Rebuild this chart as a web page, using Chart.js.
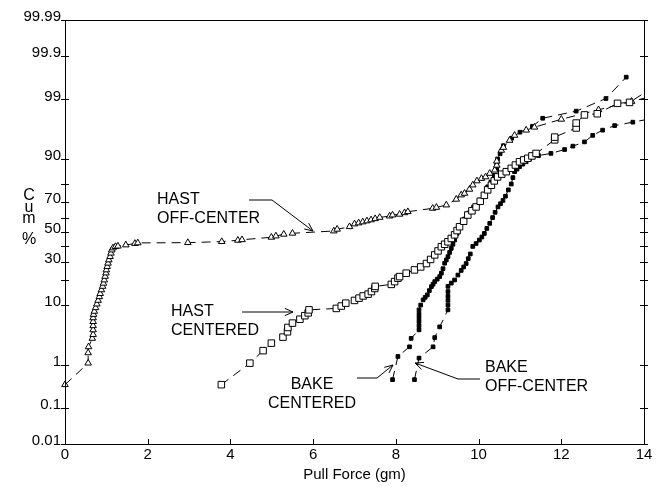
<!DOCTYPE html>
<html><head><meta charset="utf-8">
<script src="https://cdn.jsdelivr.net/npm/chart.js@4.4.1/dist/chart.umd.min.js"></script>
<style>html,body{margin:0;padding:0;background:#fff;}canvas{display:block;}</style>
</head><body>
<canvas id="c" width="660" height="487"></canvas>
<script>
// ---------- data ----------
const X_TICKS = [0, 2, 4, 6, 8, 10, 12, 14];
const Y_TICKS = [0.01, 0.1, 1, 10, 20, 30, 40, 50, 60, 70, 80, 90, 99, 99.9, 99.99];
const Y_TICK_LABELS = ['0.01', '0.1', '1', '10', '', '30', '', '50', '', '70', '', '90', '99', '99.9', '99.99'];

const HAST_OFF_X = [0, 0.56, 0.56, 0.57, 0.66, 0.68, 0.68, 0.68, 0.68, 0.68, 0.69, 0.71, 0.74, 0.77, 0.80, 0.83, 0.85, 0.88, 0.91, 0.93, 0.95, 0.97, 0.99, 1.00, 1.02, 1.04, 1.06, 1.09, 1.11, 1.13, 1.16, 1.22, 1.28, 1.47, 1.69, 1.76, 2.97, 3.79, 4.18, 4.28, 4.99, 5.10, 5.29, 5.50, 6.50, 6.58, 6.88, 7.00, 7.10, 7.20, 7.30, 7.40, 7.50, 7.61, 7.85, 7.92, 8.09, 8.21, 8.29, 8.89, 8.98, 9.22, 9.46, 9.58, 9.66, 9.78, 9.86, 9.96, 10.07, 10.17, 10.27, 10.39, 10.44, 10.44, 10.55, 10.60, 10.75, 10.87, 11.15, 11.35, 12.00, 12.90, 13.70, 14.60];
const HAST_OFF_P = [0.37, 1.07, 1.7, 2.2, 3.1, 3.6, 4.3, 5.0, 5.8, 6.6, 7.4, 8.2, 9.2, 10.3, 11.5, 12.8, 14.0, 15.5, 17.0, 18.4, 20.0, 21.8, 23.6, 25.3, 27.2, 29.2, 31.2, 33.3, 35.5, 37.6, 39.0, 39.9, 40.2, 41.0, 42.0, 42.4, 42.6, 43.3, 44.2, 44.6, 46.3, 47.2, 48.4, 49.1, 50.7, 51.9, 53.7, 55.6, 56.3, 57.0, 57.7, 58.4, 59.2, 60.1, 61.0, 61.7, 62.2, 63.2, 63.9, 66.1, 66.7, 68.2, 71.7, 74.2, 75.1, 77.3, 79.5, 81.5, 82.6, 83.3, 84.8, 86.1, 87.9, 89.3, 92.4, 93.1, 94.6, 95.5, 96.3, 96.7, 97.6, 98.4, 98.9, 99.3];

const HAST_CEN_X = [3.78, 4.47, 4.79, 4.99, 5.27, 5.38, 5.39, 5.50, 5.68, 5.80, 5.88, 5.90, 6.56, 6.68, 6.79, 7.00, 7.11, 7.21, 7.33, 7.41, 7.49, 7.50, 7.89, 7.97, 8.05, 8.09, 8.25, 8.45, 8.60, 8.74, 8.84, 8.94, 9.02, 9.10, 9.18, 9.26, 9.34, 9.42, 9.48, 9.54, 9.64, 9.74, 9.84, 9.94, 10.04, 10.14, 10.22, 10.31, 10.38, 10.46, 10.56, 10.67, 10.79, 10.89, 10.99, 11.09, 11.19, 11.29, 11.39, 11.84, 11.84, 12.36, 12.36, 12.56, 12.87, 13.36, 13.65, 14.30];
const HAST_CEN_P = [0.37, 1.07, 1.87, 2.56, 3.26, 4.0, 4.7, 5.5, 6.3, 7.1, 7.8, 8.6, 9.0, 9.7, 10.6, 11.5, 12.3, 13.1, 13.8, 14.8, 16.1, 17.0, 17.9, 19.2, 20.9, 21.7, 23.5, 25.3, 27.0, 29.0, 31.5, 34.4, 37.0, 39.8, 41.5, 43.2, 45.5, 48.0, 51.0, 53.7, 57.5, 61.7, 64.5, 67.0, 70.5, 74.0, 77.0, 79.4, 81.5, 83.3, 84.5, 85.5, 86.8, 88.0, 89.1, 89.7, 90.2, 90.9, 91.6, 94.7, 95.2, 96.6, 97.2, 98.0, 98.1, 98.8, 98.85, 99.5];

const BAKE_CEN_X = [7.92, 8.05, 8.33, 8.37, 8.56, 8.56, 8.56, 8.56, 8.56, 8.56, 8.60, 8.66, 8.71, 8.76, 8.81, 8.86, 8.90, 8.94, 9.00, 9.06, 9.10, 9.14, 9.18, 9.22, 9.26, 9.30, 9.34, 9.38, 9.42, 9.48, 9.54, 9.66, 9.76, 9.88, 10.02, 10.12, 10.22, 10.30, 10.38, 10.44, 10.44, 10.46, 10.52, 10.60, 10.80, 11.00, 11.30, 11.55, 12.36, 13.08, 13.57];
const BAKE_CEN_P = [0.48, 1.45, 2.2, 3.1, 4.3, 5.0, 5.8, 6.6, 7.5, 8.6, 10.0, 11.7, 12.6, 13.5, 15.2, 16.9, 18.0, 19.2, 20.4, 21.7, 23.5, 26.0, 29.2, 31.2, 33.3, 36.0, 38.7, 41.5, 44.4, 49.0, 53.7, 59.0, 63.0, 67.0, 71.2, 74.5, 78.6, 81.0, 84.0, 86.5, 88.5, 90.0, 91.5, 93.5, 95.0, 96.0, 96.8, 97.7, 98.3, 99.04, 99.67];

const BAKE_OFF_X = [8.45, 8.56, 8.90, 8.94, 9.06, 9.26, 9.26, 9.26, 9.26, 9.26, 9.26, 9.34, 9.42, 9.50, 9.58, 9.64, 9.70, 9.75, 9.80, 9.86, 9.94, 10.02, 10.08, 10.14, 10.20, 10.27, 10.34, 10.40, 10.47, 10.53, 10.59, 10.65, 10.72, 10.79, 10.83, 10.87, 10.93, 10.99, 11.07, 11.15, 11.23, 11.31, 11.45, 11.75, 12.08, 12.28, 12.56, 12.76, 13.00, 13.29, 13.73, 14.5];
const BAKE_OFF_P = [0.48, 1.35, 2.2, 3.2, 4.8, 8.6, 10.0, 11.5, 13.0, 14.8, 17.0, 18.5, 20.0, 22.5, 25.0, 27.0, 29.0, 32.0, 35.0, 40.0, 42.0, 44.4, 46.5, 49.0, 52.5, 56.0, 60.0, 63.5, 67.0, 69.0, 71.0, 73.5, 77.0, 80.0, 83.0, 85.5, 86.5, 87.4, 88.3, 89.1, 89.9, 90.6, 91.0, 91.6, 92.6, 93.4, 94.3, 95.5, 96.3, 96.9, 97.3, 97.9];

// ---------- probability (normal) scale ----------
function probit(p) {
  const a = [-3.969683028665376e+01, 2.209460984245205e+02, -2.759285104469687e+02, 1.383577518672690e+02, -3.066479806614716e+01, 2.506628277459239e+00];
  const b = [-5.447609879822406e+01, 1.615858368580409e+02, -1.556989798598866e+02, 6.680131188771972e+01, -1.328068155288572e+01];
  const c = [-7.784894002430293e-03, -3.223964580411365e-01, -2.400758277161838e+00, -2.549671348850431e+00, 4.374664141464968e+00, 2.938163982698783e+00];
  const d = [7.784695709041462e-03, 3.224671290700398e-01, 2.445134137142996e+00, 3.754408661907416e+00];
  const pl = 0.02425, ph = 1 - pl;
  let q, r;
  if (p < pl) { q = Math.sqrt(-2 * Math.log(p)); return (((((c[0]*q+c[1])*q+c[2])*q+c[3])*q+c[4])*q+c[5]) / ((((d[0]*q+d[1])*q+d[2])*q+d[3])*q+1); }
  if (p <= ph) { q = p - 0.5; r = q*q; return (((((a[0]*r+a[1])*r+a[2])*r+a[3])*r+a[4])*r+a[5])*q / (((((b[0]*r+b[1])*r+b[2])*r+b[3])*r+b[4])*r+1); }
  q = Math.sqrt(-2 * Math.log(1 - p));
  return -(((((c[0]*q+c[1])*q+c[2])*q+c[3])*q+c[4])*q+c[5]) / ((((d[0]*q+d[1])*q+d[2])*q+d[3])*q+1);
}
function normCdf(z) {
  const t = 1 / (1 + 0.2316419 * Math.abs(z));
  const y = 0.3989423 * Math.exp(-z*z/2) * t * (0.3193815 + t*(-0.3565638 + t*(1.781478 + t*(-1.821256 + t*1.330274))));
  return z > 0 ? 1 - y : y;
}
class ProbabilityScale extends Chart.LinearScale {
  static id = 'probability';
  determineDataLimits() { this.min = this.options.min; this.max = this.options.max; }
  buildTicks() { return Y_TICKS.map(v => ({ value: v })); }
  configure() {
    super.configure();
    this._zStart = probit(this.min / 100);
    this._zEnd = probit(this.max / 100);
  }
  getPixelForValue(value) {
    return this.getPixelForDecimal((probit(value / 100) - this._zStart) / (this._zEnd - this._zStart));
  }
  getValueForPixel(pixel) {
    const z = this._zStart + this.getDecimalForPixel(pixel) * (this._zEnd - this._zStart);
    return 100 * normCdf(z);
  }
}
Chart.register(ProbabilityScale);

// ---------- helpers ----------
const zip = (xs, ps) => xs.map((x, i) => ({ x: x, y: ps[i] }));
const FONT = "'Liberation Sans', Arial, sans-serif";

function arrowHead(ctx, fx, fy, tx, ty) {
  const ang = Math.atan2(ty - fy, tx - fx), len = 9, spread = 0.42;
  ctx.beginPath();
  ctx.moveTo(tx - len * Math.cos(ang - spread), ty - len * Math.sin(ang - spread));
  ctx.lineTo(tx, ty);
  ctx.lineTo(tx - len * Math.cos(ang + spread), ty - len * Math.sin(ang + spread));
  ctx.stroke();
}
const ANNOTATIONS = [
  { lines: ['HAST', 'OFF-CENTER'], x: 157, y: 200, align: 'left', path: [[249, 200], [272, 200], [313, 231]] },
  { lines: ['HAST', 'CENTERED'], x: 171, y: 312, align: 'left', path: [[242, 312], [293, 312]] },
  { lines: ['BAKE', 'CENTERED'], x: 312, y: 385, align: 'center', path: [[357, 378], [377, 378], [393, 365]] },
  { lines: ['BAKE', 'OFF-CENTER'], x: 485, y: 368, align: 'left', path: [[480, 379], [458, 379], [415, 363]] }
];

const framePlugin = {
  id: 'frame',
  afterDraw(chart) {
    const ctx = chart.ctx, a = chart.chartArea;
    const xs = chart.scales.x, ys = chart.scales.y;
    ctx.save();
    ctx.strokeStyle = '#000';
    ctx.lineWidth = 1;
    ctx.setLineDash([]);
    ctx.strokeRect(Math.round(a.left) + 0.5, Math.round(a.top) + 0.5, Math.round(a.right - a.left), Math.round(a.bottom - a.top));
    ctx.beginPath();
    ys.ticks.forEach(t => {
      const py = Math.round(ys.getPixelForValue(t.value)) + 0.5;
      ctx.moveTo(a.left - 4, py); ctx.lineTo(a.left + 4, py);
      ctx.moveTo(a.right - 4, py); ctx.lineTo(a.right + 4, py);
    });
    xs.ticks.forEach(t => {
      const px = Math.round(xs.getPixelForValue(t.value)) + 0.5;
      ctx.moveTo(px, a.bottom); ctx.lineTo(px, a.bottom - 5);
    });
    ctx.stroke();

    // stacked y-axis title
    ctx.fillStyle = '#000';
    ctx.font = '16px ' + FONT;
    ctx.textAlign = 'center';
    ctx.textBaseline = 'middle';
    [['C', 196], ['u', 208], ['m', 219], ['%', 240]].forEach(([ch, y]) => ctx.fillText(ch, 29, y));

    // annotations
    ANNOTATIONS.forEach(an => {
      ctx.textAlign = an.align;
      an.lines.forEach((ln, i) => ctx.fillText(ln, an.x, an.y + i * 19));
      ctx.beginPath();
      an.path.forEach(([px, py], i) => i ? ctx.lineTo(px, py) : ctx.moveTo(px, py));
      ctx.stroke();
      const n = an.path.length;
      arrowHead(ctx, an.path[n - 2][0], an.path[n - 2][1], an.path[n - 1][0], an.path[n - 1][1]);
    });
    ctx.restore();
  }
};

const lineBase = {
  showLine: true, borderColor: '#000', borderWidth: 1, borderDash: [9, 6],
  pointBorderColor: '#000', pointBorderWidth: 1,
  clip: { left: 8, top: 8, right: 0, bottom: 8 }
};

new Chart(document.getElementById('c'), {
  type: 'scatter',
  data: {
    datasets: [
      Object.assign({}, lineBase, { label: 'HAST CENTERED', data: zip(HAST_CEN_X, HAST_CEN_P), pointStyle: 'rect', pointRadius: 4.6, pointBackgroundColor: '#fff' }),
      Object.assign({}, lineBase, { label: 'HAST OFF-CENTER', data: zip(HAST_OFF_X, HAST_OFF_P), pointStyle: 'triangle', pointRadius: 3.8, pointBackgroundColor: '#fff' }),
      Object.assign({}, lineBase, { label: 'BAKE OFF-CENTER', data: zip(BAKE_OFF_X, BAKE_OFF_P), pointStyle: 'rect', pointRadius: 2.6, pointBackgroundColor: '#000' }),
      Object.assign({}, lineBase, { label: 'BAKE CENTERED', data: zip(BAKE_CEN_X, BAKE_CEN_P), pointStyle: 'rect', pointRadius: 2.6, pointBackgroundColor: '#000' })
    ]
  },
  options: {
    responsive: false,
    animation: false,
    devicePixelRatio: 1,
    events: [],
    layout: { padding: { top: 20, right: 16, left: 0, bottom: 0 } },
    plugins: { legend: { display: false }, tooltip: { enabled: false } },
    scales: {
      x: {
        type: 'linear', min: 0, max: 14,
        afterBuildTicks: s => { s.ticks = X_TICKS.map(v => ({ value: v })); },
        afterFit: s => { s.height = 43; },
        grid: { display: false, drawTicks: false },
        border: { display: false },
        ticks: { color: '#000', font: { family: FONT, size: 15 }, padding: 2, autoSkip: false, maxRotation: 0 },
        title: { display: true, text: 'Pull Force (gm)', color: '#000', font: { family: FONT, size: 15, lineHeight: 1.2 }, padding: { top: 0, bottom: 3 } }
      },
      y: {
        type: 'probability', min: 0.01, max: 99.99,
        afterFit: s => { s.width = 65; },
        grid: { display: false, drawTicks: false },
        border: { display: false },
        ticks: {
          color: '#000', font: { family: FONT, size: 15 }, padding: 4, autoSkip: false, labelOffset: -3,
          callback: (v) => { const i = Y_TICKS.indexOf(v); return i >= 0 ? Y_TICK_LABELS[i] : ''; }
        }
      }
    }
  },
  plugins: [framePlugin]
});
</script>
</body></html>
